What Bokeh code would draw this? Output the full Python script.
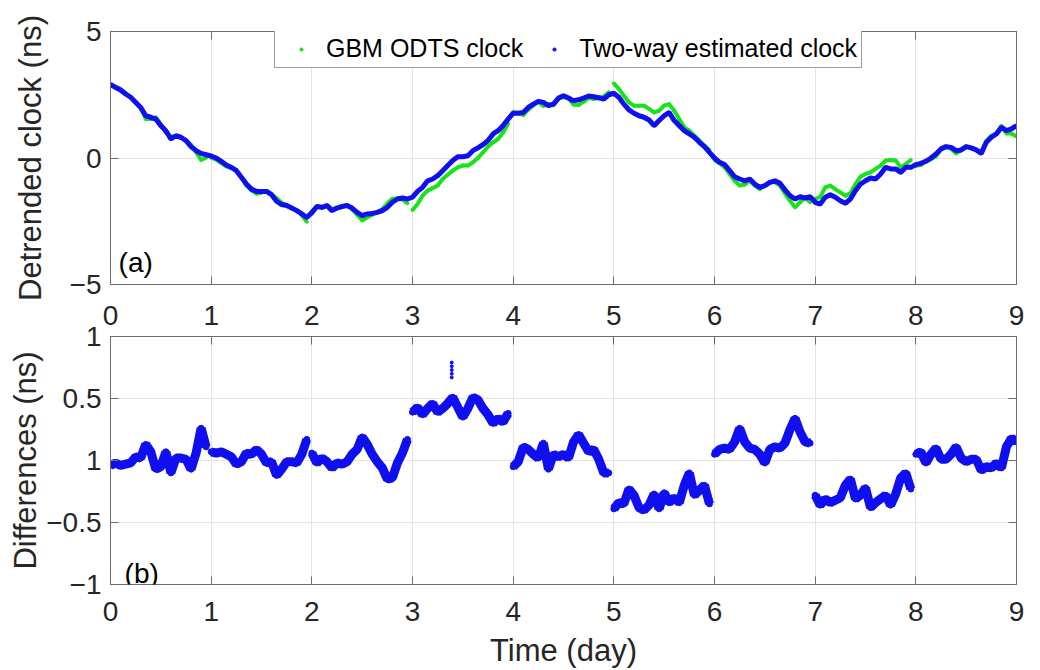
import numpy as np
from bokeh.plotting import figure
from bokeh.layouts import column
from bokeh.models import (LinearAxis, Legend, LegendItem, Label, FixedTicker, Range1d)
from bokeh.embed import file_html
from bokeh.resources import INLINE

# ---- data -------------------------------------------------------------
# sampling: every 0.05 day over 9 days (181 samples), 20 samples per day arc
t_step = 0.05
n_days = 9
days = np.round(np.arange(0, n_days + t_step / 2, t_step), 2)

# two-way estimated clock (ns)
twoway = [
    2.90, 2.79, 2.69, 2.53, 2.40, 2.20, 2.00, 1.67, 1.61, 1.54, 1.28, 1.08, 0.75, 0.88, 0.82, 0.69, 0.45, 0.29, 0.18, 0.13,
    0.08, 0.00, -0.13, -0.28, -0.37, -0.50, -0.76, -1.03, -1.23, -1.32, -1.32, -1.32, -1.45, -1.71, -1.84, -1.88, -1.98, -2.08, -2.21, -2.35,
    -2.15, -1.92, -1.95, -1.88, -2.08, -1.98, -1.92, -1.88, -1.98, -2.15, -2.28, -2.21, -2.19, -2.15, -2.08, -1.95, -1.75, -1.62, -1.58, -1.62,
    -1.55, -1.32, -1.16, -0.90, -0.83, -0.70, -0.50, -0.30, -0.10, 0.05, 0.05, 0.09, 0.29, 0.40, 0.53, 0.69, 0.95, 1.08, 1.28, 1.54,
    1.77, 1.77, 1.80, 2.00, 2.13, 2.24, 2.20, 2.07, 2.13, 2.37, 2.46, 2.37, 2.26, 2.30, 2.37, 2.45, 2.42, 2.38, 2.33, 2.50,
    2.56, 2.40, 2.13, 1.90, 1.77, 1.67, 1.61, 1.50, 1.28, 1.48, 1.67, 1.80, 1.48, 1.28, 1.08, 0.95, 0.82, 0.62, 0.45, 0.22,
    0.00, -0.17, -0.26, -0.50, -0.74, -0.83, -0.90, -0.83, -1.03, -1.16, -1.09, -0.96, -0.90, -1.00, -1.26, -1.49, -1.62, -1.53, -1.58, -1.53,
    -1.75, -1.82, -1.55, -1.45, -1.55, -1.69, -1.79, -1.62, -1.29, -1.03, -0.90, -0.79, -0.83, -0.63, -0.37, -0.43, -0.43, -0.57, -0.37, -0.37,
    -0.26, -0.21, -0.13, 0.00, 0.16, 0.36, 0.45, 0.42, 0.29, 0.32, 0.45, 0.40, 0.32, 0.18, 0.62, 0.82, 0.95, 1.21, 1.08, 1.15, 1.28,
]

# GBM ODTS clock (ns), one orbit-determination arc per day
odts = [
    2.94, 2.81, 2.73, 2.56, 2.42, 2.17, 1.98, 1.54, 1.54, 1.61, 1.33, 1.01, 0.85, 0.86, 0.80, 0.68, 0.52, 0.23, -0.08, 0.02,
    0.01, -0.06, -0.20, -0.33, -0.40, -0.47, -0.75, -1.09, -1.28, -1.41, -1.37, -1.30, -1.44, -1.59, -1.77, -1.87, -1.97, -2.06, -2.26, -2.52,
    -2.21, -1.90, -1.97, -1.87, -2.02, -1.96, -1.89, -1.87, -2.03, -2.24, -2.47, -2.34, -2.24, -2.14, -2.02, -1.80, -1.61, -1.60, -1.64, -1.79,
    -2.06, -1.82, -1.49, -1.29, -1.19, -1.09, -0.83, -0.66, -0.50, -0.37, -0.30, -0.30, -0.17, 0.00, 0.22, 0.45, 0.62, 0.75, 1.01, 1.36,
    1.82, 1.78, 1.69, 1.91, 2.08, 2.22, 2.06, 2.14, 2.08, 2.34, 2.41, 2.35, 2.11, 2.09, 2.23, 2.38, 2.33, 2.37, 2.43, 2.60,
    2.95, 2.73, 2.46, 2.20, 2.07, 2.07, 2.07, 1.94, 1.80, 1.87, 2.07, 2.13, 1.87, 1.54, 1.21, 1.08, 0.88, 0.69, 0.49, 0.32,
    -0.08, -0.21, -0.37, -0.63, -0.90, -1.09, -1.05, -0.90, -1.09, -1.23, -1.09, -0.96, -0.96, -1.09, -1.40, -1.69, -1.95, -1.75, -1.55, -1.75,
    -1.62, -1.53, -1.16, -1.09, -1.23, -1.36, -1.49, -1.40, -1.03, -0.74, -0.63, -0.57, -0.43, -0.30, -0.10, -0.08, -0.10, -0.37, -0.24, -0.08,
    -0.31, -0.28, -0.11, -0.05, 0.06, 0.35, 0.44, 0.37, 0.18, 0.30, 0.46, 0.39, 0.31, 0.26, 0.67, 0.88, 0.97, 1.27, 0.97, 0.97, 0.85,
]

# clock differences, two-way minus ODTS (ns)
diff = [
    -0.04, -0.02, -0.04, -0.03, -0.02, 0.03, 0.02, 0.13, 0.07, -0.07, -0.05, 0.07, -0.10, 0.02, 0.02, 0.01, -0.07, 0.06, 0.26, 0.11,
    0.07, 0.06, 0.07, 0.05, 0.03, -0.03, -0.01, 0.06, 0.05, 0.09, 0.05, -0.02, -0.01, -0.12, -0.07, -0.01, -0.01, -0.02, 0.05, 0.17,
    0.06, -0.02, 0.02, -0.01, -0.06, -0.02, -0.03, -0.01, 0.05, 0.09, 0.19, 0.13, 0.05, -0.01, -0.06, -0.15, -0.14, -0.02, 0.06, 0.17,
    0.39, 0.43, 0.37, 0.42, 0.46, 0.39, 0.42, 0.46, 0.51, 0.43, 0.35, 0.42, 0.51, 0.49, 0.42, 0.37, 0.30, 0.34, 0.31, 0.38,
    -0.05, -0.01, 0.11, 0.09, 0.05, 0.02, 0.14, -0.07, 0.05, 0.03, 0.05, 0.02, 0.15, 0.21, 0.14, 0.07, 0.09, 0.01, -0.10, -0.10,
    -0.39, -0.34, -0.35, -0.23, -0.28, -0.38, -0.40, -0.36, -0.27, -0.39, -0.26, -0.34, -0.30, -0.34, -0.20, -0.10, -0.28, -0.24, -0.20, -0.35,
    0.05, 0.09, 0.10, 0.09, 0.15, 0.26, 0.15, 0.10, 0.09, 0.05, -0.02, 0.09, 0.11, 0.10, 0.14, 0.25, 0.34, 0.23, 0.15, 0.14,
    -0.28, -0.36, -0.31, -0.34, -0.32, -0.30, -0.20, -0.15, -0.31, -0.28, -0.22, -0.38, -0.34, -0.31, -0.28, -0.36, -0.27, -0.14, -0.10, -0.23,
    0.05, 0.07, -0.02, 0.05, 0.10, 0.01, 0.01, 0.05, 0.11, 0.02, -0.01, 0.01, 0.01, -0.08, -0.05, -0.06, -0.02, -0.06, 0.11, 0.18, 0.15,
]

# isolated outlier epochs in the differences
outlier_t = [3.39, 3.39, 3.39, 3.39, 3.39]
outlier_v = [0.67, 0.70, 0.73, 0.76, 0.79]

x_ticks = list(range(0, 10))
top_yticks = [-5, 0, 5]
bot_yticks = [-1, -0.5, 0, 0.5, 1]
top_ylabels = {-5: "\u22125", 0: "0", 5: "5"}
bot_ylabels = {-1: "\u22121", -0.5: "\u22120.5", 0: "1", 0.5: "0.5", 1: "1"}

# ---- styling ----------------------------------------------------------
FONT = "Liberation Sans"
TXT = "#262626"
FRAME = "#6e6e6e"
GRID = "#e4e4e4"
BLUE = "#0f0ff0"
GREEN = "#18e418"


def per_day(values):
    xs, ys = [], []
    per = int(round(1 / t_step))
    for d in range(n_days):
        stop = (d + 1) * per + (1 if d == n_days - 1 else 0)
        xs.append(list(days[d * per:stop]))
        ys.append(list(values[d * per:stop]))
    return xs, ys


def tick_axis(ticks, labelled=False, standoff=0):
    ax = LinearAxis(ticker=FixedTicker(ticks=ticks), axis_line_color=FRAME,
                    major_tick_line_color=FRAME, major_tick_in=8, major_tick_out=0,
                    minor_tick_line_color=None, major_label_standoff=standoff)
    if labelled:
        ax.major_label_text_font = FONT
        ax.major_label_text_font_size = "28px"
        ax.major_label_text_color = TXT
    else:
        ax.major_label_text_font_size = "1px"
        ax.major_label_text_color = None
    return ax


def style(p, yticks, ylabels, ylabel, ylabel_standoff, show_xlabels, xlabel=None):
    p.outline_line_color = FRAME
    p.outline_line_width = 1
    for ax in p.axis:
        ax.axis_line_color = FRAME
        ax.major_tick_line_color = FRAME
        ax.major_tick_in = 8
        ax.major_tick_out = 0
        ax.minor_tick_line_color = None
        ax.major_label_text_font = FONT
        ax.major_label_text_font_size = "28px"
        ax.major_label_text_color = TXT
        ax.axis_label_text_font = FONT
        ax.axis_label_text_font_size = "31px"
        ax.axis_label_text_font_style = "normal"
        ax.axis_label_text_color = TXT
    p.xaxis.ticker = FixedTicker(ticks=x_ticks)
    p.yaxis.ticker = FixedTicker(ticks=yticks)
    p.yaxis.major_label_standoff = 9
    p.yaxis.major_label_overrides = ylabels
    p.yaxis.axis_label = ylabel
    p.yaxis.axis_label_standoff = ylabel_standoff
    if show_xlabels:
        p.xaxis.major_label_standoff = 17
    else:
        p.xaxis.major_label_text_font_size = "1px"
        p.xaxis.major_label_text_color = None
        p.xaxis.major_label_standoff = 0
    if xlabel:
        p.xaxis.axis_label = xlabel
        p.xaxis.axis_label_standoff = 9
    p.xgrid.ticker = FixedTicker(ticks=x_ticks)
    p.ygrid.ticker = FixedTicker(ticks=yticks)
    for g in (p.xgrid, p.ygrid):
        g.grid_line_color = GRID
        g.grid_line_width = 1
    p.add_layout(tick_axis(yticks), "right")


# ---- (a) detrended clocks -------------------------------------------
p1 = figure(width=1040, height=300, x_range=Range1d(0, 9), y_range=Range1d(-5, 5),
            output_backend="svg", toolbar_location=None,
            min_border_left=110, min_border_right=24, min_border_top=31, min_border_bottom=16)
p1.background_fill_color = "white"
p1.border_fill_color = "white"

gx, gy = per_day(odts)
p1.multi_line(gx, gy, line_color=GREEN, line_width=4)
g_dots = p1.scatter(list(days), odts, size=3, color=GREEN)
p1.line(list(days), twoway, line_color=BLUE, line_width=5)
b_dots = p1.scatter(list(days), twoway, size=3, color=BLUE)

style(p1, top_yticks, top_ylabels, "Detrended clock (ns)", 19, show_xlabels=False)
p1.add_layout(tick_axis(x_ticks), "above")

legend = Legend(items=[LegendItem(label="GBM ODTS clock", renderers=[g_dots]),
                       LegendItem(label="Two-way estimated clock", renderers=[b_dots])],
                orientation="horizontal", location=(164, 216), padding=4, spacing=9,
                glyph_width=44, glyph_height=8, label_height=29, label_standoff=3,
                label_text_font=FONT, label_text_font_size="25px", label_text_color="#000000",
                border_line_color="#3a3a3a", border_line_width=1, margin=0,
                background_fill_color="white", background_fill_alpha=1)
p1.add_layout(legend)
p1.add_layout(Label(x=0.08, y=-4.15, text="(a)", text_font=FONT, text_font_size="28px",
                    text_color="#000000", text_baseline="middle"))

# ---- (b) differences --------------------------------------------------
p2 = figure(width=1040, height=370, x_range=Range1d(0, 9), y_range=Range1d(-1, 1),
            output_backend="svg", toolbar_location=None,
            min_border_left=107, min_border_right=21, min_border_top=36, min_border_bottom=84)
p2.background_fill_color = "white"
p2.border_fill_color = "white"

dx, dy = per_day(diff)
p2.multi_line(dx, dy, line_color=BLUE, line_width=9)
p2.scatter(list(days), diff, size=6, color=BLUE)
p2.scatter(outlier_t, outlier_v, size=3, color=BLUE)

style(p2, bot_yticks, bot_ylabels, "Differences (ns)", 0, show_xlabels=True, xlabel="Time (day)")
# day numbers shared with panel (a) sit on the axis between the two panels
p2.add_layout(tick_axis(x_ticks, labelled=True, standoff=12), "above")
p2.add_layout(Label(x=0.14, y=-0.91, text="(b)", text_font=FONT, text_font_size="28px",
                    text_color="#000000", text_baseline="middle"))

layout = column(p1, p2, spacing=0)
open("out.html", "w").write(file_html(layout, INLINE))
